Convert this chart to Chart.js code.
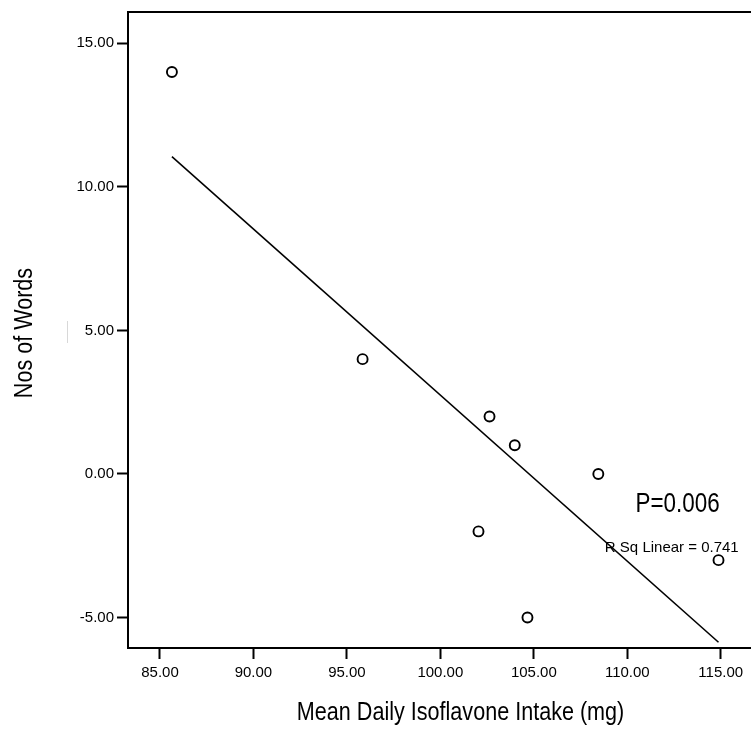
<!DOCTYPE html>
<html>
<head>
<meta charset="utf-8">
<script src="https://cdn.jsdelivr.net/npm/chart.js@4.4.1/dist/chart.umd.min.js"></script>
<style>
  html, body { margin: 0; padding: 0; background: #fff; overflow: hidden; }
  #wrap { width: 800px; height: 729px; }
</style>
</head>
<body>
<div id="wrap"><canvas id="c" width="800" height="729"></canvas></div>
<script>
// ---- data ----
const intake = [85.64, 95.84, 102.63, 103.98, 108.45, 102.04, 104.66, 114.88];
const words  = [14, 4, 2, 1, 0, -2, -5, -3];

// fitted line end points (as drawn in the reference)
const fitX = [85.64, 114.88];
const fitY = [11.05, -5.86];

// tick values
const xTickValues = [85, 90, 95, 100, 105, 110, 115];
const yTickValues = [-5, 0, 5, 10, 15];

// axis titles and annotations
const xTitle = 'Mean Daily Isoflavone Intake (mg)';
const yTitle = 'Nos of Words';
const pText = 'P=0.006';
const rText = 'R Sq Linear = 0.741';

const regular = '"Liberation Sans", Arial, sans-serif';
const SQUEEZE = 0.83; // narrow (Arial Narrow-like) look for the titles

function narrowText(ctx, text, x, y, size, rot) {
  ctx.save();
  ctx.translate(x, y);
  if (rot) ctx.rotate(rot);
  ctx.scale(SQUEEZE, 1);
  ctx.font = size + 'px ' + regular;
  ctx.textAlign = 'center';
  ctx.textBaseline = 'alphabetic';
  ctx.fillStyle = '#000';
  ctx.fillText(text, 0, 0);
  ctx.restore();
}

const framePlugin = {
  id: 'frame',
  afterDraw(chart) {
    const {ctx, chartArea, scales} = chart;
    ctx.save();
    // top frame line
    ctx.strokeStyle = '#000';
    ctx.lineWidth = 2;
    ctx.beginPath();
    ctx.moveTo(chartArea.left - 1, chartArea.top);
    ctx.lineTo(chart.width, chartArea.top);
    ctx.stroke();
    // faint artifact mark near the y title
    ctx.strokeStyle = '#d8d8d8';
    ctx.lineWidth = 1;
    ctx.beginPath();
    ctx.moveTo(67.5, 321);
    ctx.lineTo(67.5, 343);
    ctx.stroke();
    ctx.restore();

    const x = scales.x, y = scales.y;
    // axis titles
    narrowText(ctx, xTitle, (chartArea.left + chartArea.right) / 2, 720, 26, 0);
    narrowText(ctx, yTitle, 32, 333, 26, -Math.PI / 2);
    // annotations
    narrowText(ctx, pText, x.getPixelForValue(112.69), y.getPixelForValue(-1.313), 27, 0);
    ctx.save();
    ctx.fillStyle = '#000';
    ctx.textAlign = 'center';
    ctx.textBaseline = 'alphabetic';
    ctx.font = '15px ' + regular;
    ctx.fillText(rText, x.getPixelForValue(112.38), y.getPixelForValue(-2.73));
    ctx.restore();
  }
};

new Chart(document.getElementById('c'), {
  type: 'scatter',
  data: {
    datasets: [
      {
        type: 'line',
        data: fitX.map((v, i) => ({x: v, y: fitY[i]})),
        borderColor: '#000',
        borderWidth: 1.6,
        pointRadius: 0,
        fill: false,
        order: 2
      },
      {
        data: intake.map((v, i) => ({x: v, y: words[i]})),
        pointStyle: 'circle',
        pointRadius: 5,
        pointBorderWidth: 1.9,
        pointBorderColor: '#000',
        pointBackgroundColor: '#fff',
        order: 1
      }
    ]
  },
  options: {
    responsive: false,
    animation: false,
    layout: { padding: { top: 12, right: 6, left: 0, bottom: 0 } },
    plugins: { legend: { display: false }, tooltip: { enabled: false } },
    scales: {
      x: {
        type: 'linear',
        min: 83.29,
        max: 118.87,
        afterBuildTicks: s => { s.ticks = xTickValues.map(v => ({value: v})); },
        afterFit: s => { s.height = 81; },
        ticks: {
          callback: v => Number(v).toFixed(2),
          color: '#000',
          font: { family: regular, size: 15 },
          padding: 5,
          maxRotation: 0
        },
        grid: { drawOnChartArea: false, drawTicks: true, tickLength: 11, tickWidth: 2, tickColor: '#000', color: '#000' },
        border: { display: true, color: '#000', width: 2 },
        title: { display: false, text: xTitle }
      },
      y: {
        type: 'linear',
        min: -6.06,
        max: 16.09,
        afterBuildTicks: s => { s.ticks = yTickValues.map(v => ({value: v})); },
        afterFit: s => { s.width = 128; },
        ticks: {
          callback: v => Number(v).toFixed(2),
          color: '#000',
          font: { family: regular, size: 15 },
          padding: 3
        },
        grid: { drawOnChartArea: false, drawTicks: true, tickLength: 11, tickWidth: 2, tickColor: '#000', color: '#000' },
        border: { display: true, color: '#000', width: 2 },
        title: { display: false, text: yTitle }
      }
    }
  },
  plugins: [framePlugin]
});
</script>
</body>
</html>
